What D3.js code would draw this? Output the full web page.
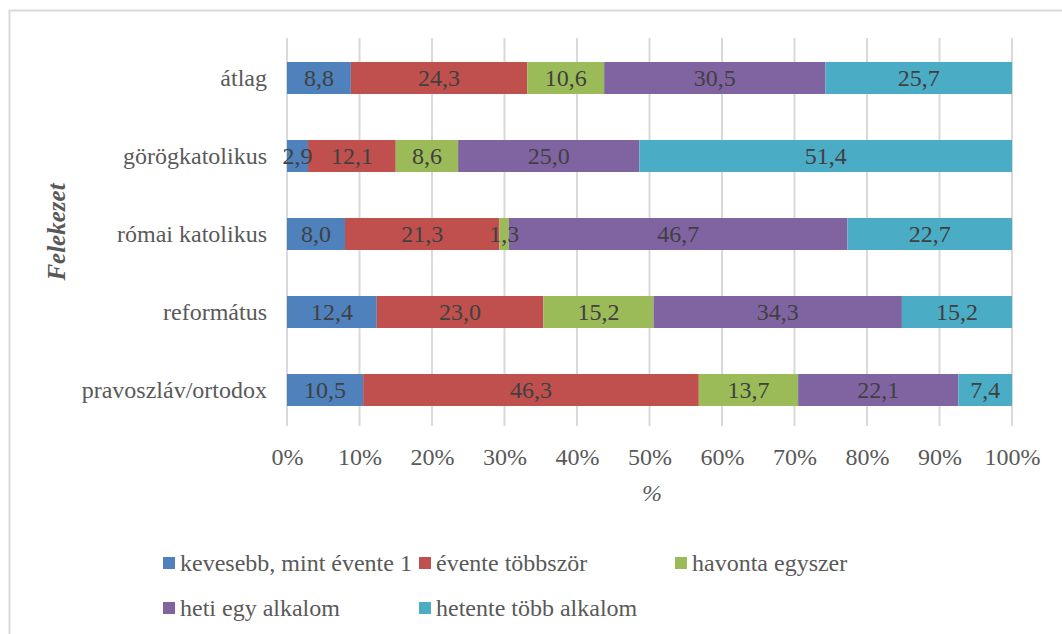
<!DOCTYPE html>
<html><head><meta charset="utf-8">
<script src="https://cdn.jsdelivr.net/npm/d3@7"></script>
<style>
body{margin:0;background:#fff;}
text{font-family:"Liberation Serif","Times New Roman",serif;}
</style></head>
<body>
<svg id="chart" width="1062" height="634"></svg>
<script>
const categories = ["átlag","görögkatolikus","római katolikus","református","pravoszláv/ortodox"];
const seriesNames = ["kevesebb, mint évente 1","évente többször","havonta egyszer","heti egy alkalom","hetente több alkalom"];
const s1 = [8.8, 2.9, 8.0, 12.4, 10.5];
const s2 = [24.3, 12.1, 21.3, 23.0, 46.3];
const s3 = [10.6, 8.6, 1.3, 15.2, 13.7];
const s4 = [30.5, 25.0, 46.7, 34.3, 22.1];
const s5 = [25.7, 51.4, 22.7, 15.2, 7.4];
const tickValues = [0,0.1,0.2,0.3,0.4,0.5,0.6,0.7,0.8,0.9,1.0];
const colors = ["#4f81bd","#c0504d","#9bbb59","#8064a2","#4bacc6"];

const seriesVals = [s1,s2,s3,s4,s5];
const rows = categories.map((c,i)=>{
  const o = {cat:c};
  seriesNames.forEach((s,j)=>o[s]=seriesVals[j][i]);
  return o;
});

const FS = 24;
const svg = d3.select("#chart");
svg.append("rect").attr("x",9.5).attr("y",10.5).attr("width",1062).attr("height",640)
  .attr("fill","none").attr("stroke","#d9d9d9").attr("stroke-width",2);

const x = d3.scaleLinear().domain([0,1]).range([287,1012]);
const y = d3.scaleBand().domain(categories).range([39,429]).paddingInner(0.59).paddingOuter(0.295);

// gridlines
svg.append("g").selectAll("line").data(tickValues).join("line")
  .attr("x1",d=>x(d)).attr("x2",d=>x(d)).attr("y1",38).attr("y2",426)
  .attr("stroke","#d9d9d9").attr("stroke-width",2);

const stack = d3.stack().keys(seriesNames).offset(d3.stackOffsetExpand);
const stacked = stack(rows);

const g = svg.append("g");
stacked.forEach((layer,j)=>{
  g.append("g").selectAll("rect").data(layer).join("rect")
    .attr("x",d=>x(d[0])).attr("width",d=>x(d[1])-x(d[0]))
    .attr("y",d=>y(d.data.cat)).attr("height",y.bandwidth())
    .attr("fill",colors[j]);
});
stacked.forEach((layer,j)=>{
  g.append("g").selectAll("text").data(layer).join("text")
    .attr("x",d=>(x(d[0])+x(d[1]))/2)
    .attr("y",d=>y(d.data.cat)+y.bandwidth()/2)
    .attr("dy","0.33em").attr("text-anchor","middle")
    .attr("font-size",FS).attr("fill","#404040")
    .text(d=>d3.format(".1f")(d.data[layer.key]).replace(".",","));
});

// x axis labels
const xAxis = d3.axisBottom(x).tickValues(tickValues).tickFormat(d3.format(".0%")).tickSize(0).tickPadding(0);
const xg = svg.append("g").attr("transform","translate(0,448)").call(xAxis);
xg.select(".domain").remove();
xg.selectAll("text").attr("font-size",FS).attr("fill","#595959")
  .attr("font-family","'Liberation Serif',serif");

// y axis labels
const yAxis = d3.axisLeft(y).tickSize(0).tickPadding(20);
const yg = svg.append("g").attr("transform","translate(287,0)").call(yAxis);
yg.select(".domain").remove();
yg.selectAll("text").attr("font-size",FS).attr("fill","#595959").attr("dy","0.33em")
  .attr("font-family","'Liberation Serif',serif");

// axis titles
svg.append("text").attr("x",652).attr("y",501).attr("text-anchor","middle")
  .attr("font-size",FS).attr("font-style","italic").attr("fill","#595959").text("%");
svg.append("text").attr("transform","translate(57,232) rotate(-90)").attr("text-anchor","middle")
  .attr("dy","0.33em").attr("font-size",25).attr("font-style","italic").attr("font-weight","bold")
  .attr("fill","#595959").text("Felekezet");

// legend
const legPos = [[163,563],[419,563],[675,563],[163,608],[419,608]];
seriesNames.forEach((s,j)=>{
  const [lx,ly] = legPos[j];
  svg.append("rect").attr("x",lx).attr("y",ly-6).attr("width",12).attr("height",12).attr("fill",colors[j]);
  svg.append("text").attr("x",lx+17).attr("y",ly).attr("dy","0.33em")
    .attr("font-size",FS).attr("fill","#595959").text(s);
});
</script>
</body></html>
